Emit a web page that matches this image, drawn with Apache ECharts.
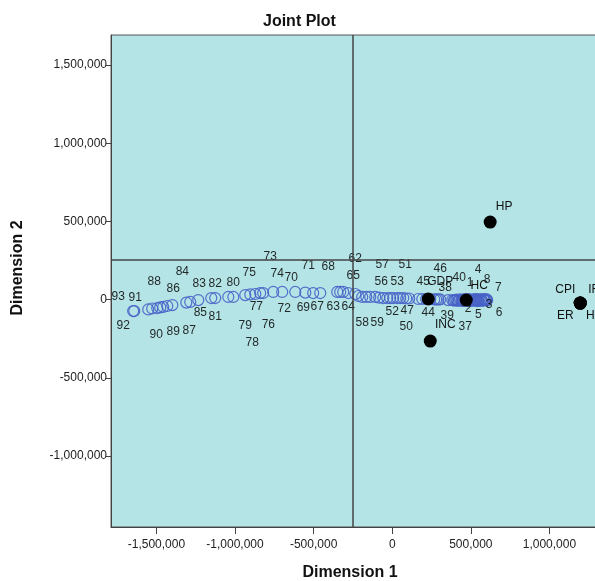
<!DOCTYPE html>
<html>
<head>
<meta charset="utf-8">
<title>Joint Plot</title>
<script src="https://cdn.jsdelivr.net/npm/echarts@6/dist/echarts.min.js"></script>
<style>
  html, body { margin: 0; padding: 0; background: #fff; overflow: hidden; }
  /* the plot runs past the right edge of the window, like the original */
  #chart { width: 612px; height: 581px; }
</style>
</head>
<body>
<div id="chart"></div>
<script>
// object points 1..93 (values in thousands)
const objX = [483, 445, 585, 534, 547, 604, 598, 566, 600, 590,
  580, 572, 563, 555, 548, 540, 532, 525, 518, 510,
  503, 496, 489, 482, 475, 468, 461, 454, 447, 440,
  432, 424, 416, 408, 400, 392, 382, 280, 305, 356,
  293, 267, 242, 191, 165, 216, 108, 89, 70, 51,
  32, 6, -13, -32, -57, -83, -108, -165, -140, -191,
  -216, -235, -350, -312, -280, -331, -503, -458, -553, -700,
  -617, -757, -840, -821, -935, -871, -1011, -903, -1043, -1126,
  -1234, -1151, -1285, -1399, -1310, -1457, -1431, -1495, -1476, -1527,
  -1552, -1648, -1641]
const objY = [4, -9, -3, 4, -9, -3, 4, 1, -6, -1,
  3, -8, -3, 2, -5, -10, -2, 4, -6, -1,
  -8, 2, -4, -9, 0, -5, 3, -7, -2, -6,
  1, -4, -8, 0, -3, -6, -3, 1, 1, -3,
  1, 1, 4, 4, 4, 4, 7, 7, 10, 10,
  10, 10, 10, 10, 10, 13, 17, 17, 17, 17,
  23, 36, 49, 49, 42, 49, 42, 42, 45, 49,
  49, 49, 42, 42, 29, 36, 17, 33, 17, 10,
  -3, 10, -15, -35, -19, -47, -41, -54, -50, -57,
  -63, -73, -73]

// variable points
const varNames = ['HP', 'GDP', 'HC', 'INC', 'CPI', 'IR', 'ER', 'HS']
const varX = [623, 229, 471, 242, 1196, 1196, 1196, 1196]
const varY = [496, 4, -3, -265, -22, -22, -22, -22]

// reference lines
const refX = -252500
const refY = 257000

const xTicks = [-1500000, -1000000, -500000, 0, 500000, 1000000]
const yTicks = [-1000000, -500000, 0, 500000, 1000000, 1500000]

// label placement (px), null = label not visible
const objLabelOffset = [
  [2, -16], [6, 8], [5, 5], [2, -29], [0, 14], [12, 13], [12, -11], [6, -20], null, null,
  null, null, null, null, null, null, null, null, null, null,
  null, null, null, null, null, null, null, null, null, null,
  null, null, null, null, null, null, [13, 27], [9, -12], [7, 16], [11, -22],
  null, null, null, [6, 14], [5, -17], [14, -30], [-2, 12], null, null, [6, 29],
  [8, -33], [-1, 14], [7, -16], null, null, [2, -16], [7, -32], [-4, 26], [7, 26], null,
  null, [0, -35], [-4, 15], [5, 15], [5, -17], null, [4, 14], [8, -26], [-2, 15], [9, -14],
  [13, -26], [11, 17], [10, -36], [14, -19], [4, -22], [13, 31], [23, 10], [2, 48], [17, 29], [18, -15],
  [17, 17], [4, -14], [9, -18], [10, -33], [14, 10], [10, -18], [22, 25], [-3, -26], [13, 24], [4, 26],
  [-13, -12], [-10, 15], [-16, -14]
]
const varLabelOffset = [[14, -15], [12, -17], [13, -14], [15, -16], [-15, -13], [14, -13], [-15, 13], [14, 13]]

const K = 1000
const font = 'Liberation Sans, Arial, sans-serif'

let objData = objX.map(function(x, i) {
  let off = objLabelOffset[i]
  return {
    name: String(i + 1),
    value: [x * K, objY[i] * K],
    label: off ? { show: true, offset: off } : { show: false }
  }
})

let varData = varNames.map(function(n, i) {
  return {
    name: n,
    value: [varX[i] * K, varY[i] * K],
    label: { show: true, offset: varLabelOffset[i] }
  }
})

function fmt(v) {
  return Number(v).toLocaleString('en-US')
}

let myChart = echarts.init(document.getElementById('chart'))

let option = {
  animation: false,
  title: {
    text: 'Joint Plot',
    left: 258,
    top: 9,
    textStyle: { fontFamily: font, fontSize: 16, fontWeight: 'bold', color: '#111' }
  },
  grid: {
    left: 111,
    top: 35,
    right: 0,
    bottom: 54,
    show: true,
    backgroundColor: '#b4e4e6',
    borderColor: '#555',
    borderWidth: 1
  },
  xAxis: {
    type: 'value',
    min: -1789000,
    max: 1398000,
    splitLine: { show: false },
    axisLine: { show: true, onZero: false, lineStyle: { color: '#444', width: 1 } },
    axisTick: { show: true, customValues: xTicks, length: 7, lineStyle: { color: '#444' } },
    axisLabel: {
      customValues: xTicks,
      formatter: fmt,
      color: '#222',
      fontSize: 12,
      fontFamily: font,
      margin: 12
    }
  },
  yAxis: {
    type: 'value',
    min: -1454000,
    max: 1692000,
    splitLine: { show: false },
    axisLine: { show: true, onZero: false, lineStyle: { color: '#444', width: 1 } },
    axisTick: { show: true, customValues: yTicks, length: 5, lineStyle: { color: '#444' } },
    axisLabel: {
      customValues: yTicks,
      formatter: fmt,
      color: '#222',
      fontSize: 12,
      fontFamily: font,
      margin: 4
    }
  },
  graphic: [
    {
      type: 'text',
      style: {
        text: 'Dimension 1', x: 350, y: 573, align: 'center', verticalAlign: 'middle',
        fontSize: 16, fontWeight: 'bold', fontFamily: font, fill: '#111'
      }
    },
    {
      type: 'text',
      x: 18,
      y: 268,
      rotation: Math.PI / 2,
      style: {
        text: 'Dimension 2', x: 0, y: 0, align: 'center', verticalAlign: 'middle',
        fontSize: 16, fontWeight: 'bold', fontFamily: font, fill: '#111'
      }
    }
  ],
  series: [
    {
      name: 'objects',
      type: 'scatter',
      symbol: 'circle',
      symbolSize: 11,
      itemStyle: { color: 'rgba(0,0,0,0)', borderColor: '#4862c8', borderWidth: 1.2, opacity: 0.9 },
      label: {
        position: 'inside',
        formatter: '{b}',
        color: '#111',
        fontSize: 12,
        fontFamily: font
      },
      data: objData,
      markLine: {
        silent: true,
        symbol: 'none',
        label: { show: false },
        lineStyle: { color: '#444', width: 1.5, type: 'solid' },
        data: [{ xAxis: refX }, { yAxis: refY }]
      },
      z: 2
    },
    {
      name: 'variables',
      type: 'scatter',
      symbol: 'circle',
      symbolSize: 13,
      itemStyle: { color: '#000', opacity: 1 },
      label: {
        position: 'inside',
        formatter: '{b}',
        color: '#111',
        fontSize: 12,
        fontFamily: font
      },
      data: varData,
      z: 3
    }
  ]
}

myChart.setOption(option)
</script>
</body>
</html>
